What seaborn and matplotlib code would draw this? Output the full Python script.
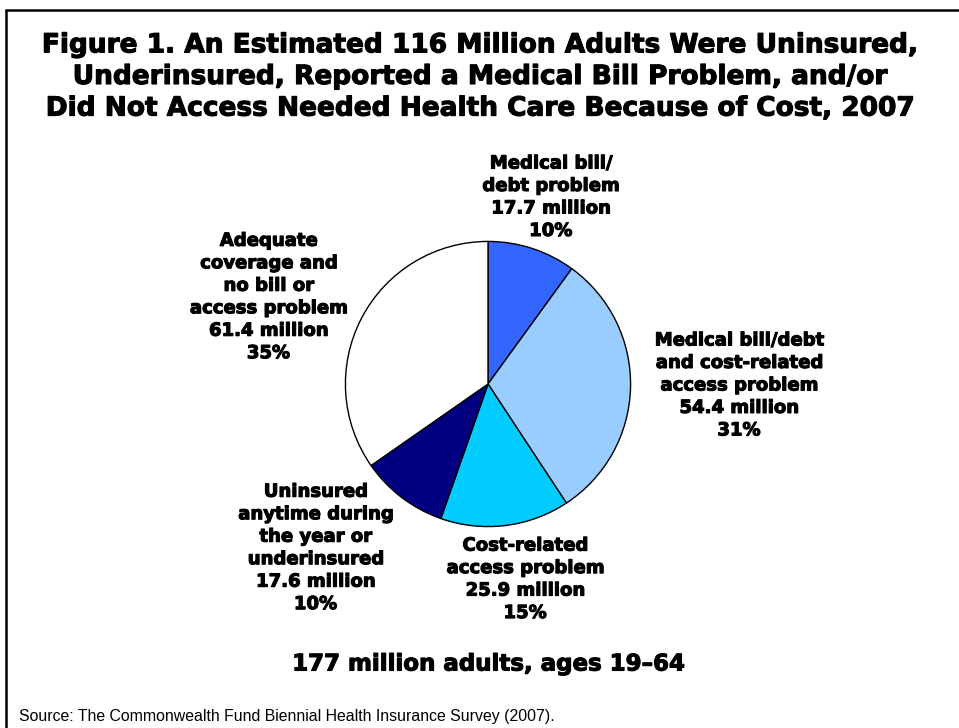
import numpy as np
import pandas as pd
import matplotlib.pyplot as plt
import matplotlib.patheffects as pe
import seaborn as sns

# 数据 (百万人)
groups = ['Medical bill/\ndebt problem',
          'Medical bill/debt\nand cost-related\naccess problem',
          'Cost-related\naccess problem',
          'Uninsured\nanytime during\nthe year or\nunderinsured',
          'Adequate\ncoverage and\nno bill or\naccess problem']
millions = [17.7, 54.4, 25.9, 17.6, 61.4]
percents = [10, 31, 15, 10, 35]
colors = ['#3366FF', '#99CCFF', '#00CCFF', '#000080', '#FFFFFF']

# 标签位置 (饼图半径为单位)
label_pos = [(0.44, 1.31), (1.76, -0.01), (0.26, -1.37), (-1.21, -1.15), (-1.54, 0.61)]

sns.set_style("white")
plt.rcParams['font.family'] = ['DejaVu Sans']
plt.rcParams['text.color'] = 'black'

W, H = 959, 728
fig = plt.figure(figsize=(W / 100, H / 100), dpi=100)

# 加粗效果, 接近 Arial Black
heavy = [pe.withStroke(linewidth=0.8, foreground='black')]

# 饼图中心 (488, 384), 半径 144 像素
cx, cy, r = 488, 384, 144
ax = fig.add_axes([(cx - r) / W, (H - cy - r) / H, 2 * r / W, 2 * r / H])
ax.pie(millions, colors=colors, startangle=90, counterclock=False, radius=1,
       wedgeprops={'edgecolor': 'black', 'linewidth': 1.0})
ax.set_xlim(-1.01, 1.01)
ax.set_ylim(-1.01, 1.01)
ax.set_aspect('equal')
ax.axis('off')

for g, m, p, (x, y) in zip(groups, millions, percents, label_pos):
    ax.text(x, y, '%s\n%.1f million\n%d%%' % (g, m, p), ha='center', va='center',
            fontsize=13, fontweight='bold', linespacing=1.32, clip_on=False,
            path_effects=heavy)

fig.text(480 / W, 1 - 77 / H,
         'Figure 1. An Estimated 116 Million Adults Were Uninsured,\n'
         'Underinsured, Reported a Medical Bill Problem, and/or\n'
         'Did Not Access Needed Health Care Because of Cost, 2007',
         ha='center', va='center', fontsize=19, fontweight='bold', linespacing=1.28,
         path_effects=heavy)

fig.text(488 / W, 1 - 664 / H, '177 million adults, ages 19\u201364',
         ha='center', va='center', fontsize=16.5, fontweight='bold', path_effects=heavy)

fig.text(19 / W, 1 - 716 / H,
         'Source: The Commonwealth Fund Biennial Health Insurance Survey (2007).',
         ha='left', va='center', fontsize=11.4, family=['Liberation Sans', 'DejaVu Sans'])

# 边框: 顶部和左侧
fig.add_artist(plt.Line2D([6 / W, 958 / W], [1 - 10 / H, 1 - 10 / H], color='black', lw=1.8))
fig.add_artist(plt.Line2D([6 / W, 6 / W], [1 - 10 / H, 0], color='black', lw=1.8))

plt.savefig('out.png', dpi=100)
